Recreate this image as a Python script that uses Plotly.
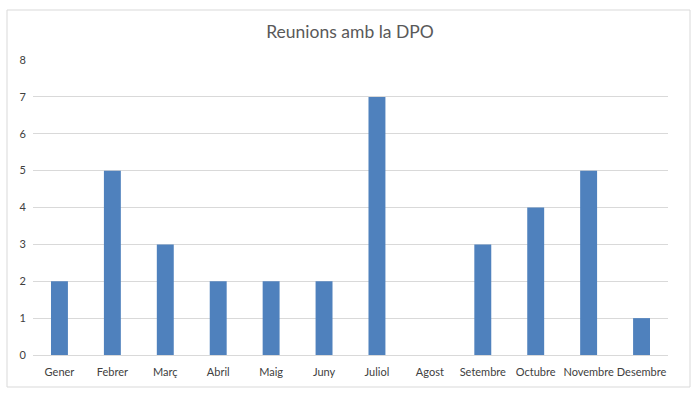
import plotly.graph_objects as go

months = ["Gener", "Febrer", "Març", "Abril", "Maig", "Juny", "Juliol",
          "Agost", "Setembre", "Octubre", "Novembre", "Desembre"]
meetings = [2, 5, 3, 2, 2, 2, 7, 0, 3, 4, 5, 1]
y_ticks = [0, 1, 2, 3, 4, 5, 6, 7, 8]

W, H = 700, 398
L, R, T, B = 33, 32, 60, 43
pw, ph = W - L - R, H - T - B

fig = go.Figure(go.Bar(x=months, y=meetings, marker=dict(color="#4F81BD", line=dict(width=0)),
                       width=0.32))

fig.update_layout(
    width=W, height=H,
    margin=dict(l=L, r=R, t=T, b=B),
    paper_bgcolor="white", plot_bgcolor="white",
    font=dict(family="Lato, Open Sans, Liberation Sans, sans-serif", color="#595959", size=11),
    title=dict(text="Reunions amb la DPO", x=0.5, xanchor="center", y=1 - 32 / H, yanchor="middle",
               font=dict(size=17.5, color="#595959")),
    showlegend=False,
    xaxis=dict(showgrid=False, showline=True, linecolor="#D9D9D9", linewidth=1, ticks="",
               tickfont=dict(size=11, color="#404040"), ticklabelstandoff=7),
    yaxis=dict(range=[0, 8], tickvals=y_ticks, showgrid=True, gridcolor="#D9D9D9", gridwidth=1,
               zeroline=False, showline=False, ticks="", tickfont=dict(size=11, color="#404040"),
               ticklabelstandoff=6),
    shapes=[dict(type="rect", xref="paper", yref="paper",
                 x0=(7 - L) / pw, x1=(690 - L) / pw,
                 y0=(H - B - 387) / ph, y1=(H - B - 10) / ph,
                 line=dict(color="#D9D9D9", width=1), fillcolor="rgba(0,0,0,0)", layer="below")],
)

fig.write_html("out.html", config={"displayModeBar": False},
               post_script="document.body.style.margin='0';document.body.style.overflow='hidden';")
